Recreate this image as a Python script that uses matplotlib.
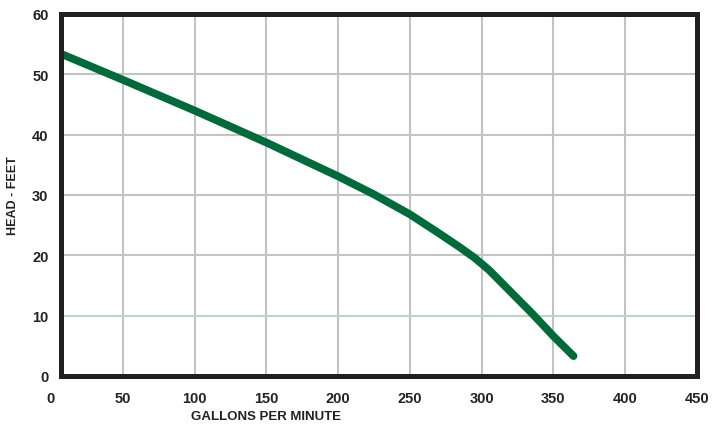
import matplotlib.pyplot as plt

# pump curve
gpm = [8, 50, 100, 150, 200, 225, 250, 270, 285, 295, 305, 320, 335, 350, 364]
head_ft = [53.3, 49.1, 44.0, 38.7, 33.1, 30.1, 26.8, 23.7, 21.3, 19.6, 17.6, 14.0, 10.4, 6.6, 3.3]

x_ticks = [0, 50, 100, 150, 200, 250, 300, 350, 400, 450]
y_ticks = [0, 10, 20, 30, 40, 50, 60]

border = "#231f20"
curve_green = "#006b3a"
grid_gray = "#c3c3c7"
grid_green = "#b6d8c6"
txt = "#222222"

plt.rcParams["font.family"] = ["Liberation Sans", "DejaVu Sans"]

fig = plt.figure(figsize=(7.28, 4.27), dpi=100)
W, H = 728, 427
ax = fig.add_axes([61 / W, 1 - 377 / H, (697 - 61) / W, (377 - 15) / H])

ax.set_xticks(x_ticks)
ax.set_yticks(y_ticks)
# frame starts a little right of 0 gpm (set after ticks, which widen limits)
ax.set_xlim(7, 450)
ax.set_ylim(0, 60)
ax.tick_params(length=0, labelsize=10.5, colors=txt)
ax.tick_params(axis="x", pad=10.5)
ax.tick_params(axis="y", pad=9)
for lab in ax.get_xticklabels() + ax.get_yticklabels():
    lab.set_fontweight("bold")

# the 0 on the x axis sits left of the frame
ax.annotate("0", xy=(0, 0), xycoords=ax.get_xaxis_transform(), xytext=(0, -10.5),
            textcoords="offset points", ha="center", va="top", fontsize=10.5,
            fontweight="bold", color=txt, annotation_clip=False)

# grid
for xv in x_ticks[1:-1]:
    ax.axvline(xv, color=grid_gray, lw=1.5, zorder=1)
for yv in y_ticks[1:-1]:
    ax.axhline(yv, color=grid_green if yv == 10 else grid_gray, lw=1.5, zorder=1)

ax.plot(gpm, head_ft, color=curve_green, lw=5.6, solid_capstyle="round",
        solid_joinstyle="round", zorder=3)

for sp in ax.spines.values():
    sp.set_color(border)
    sp.set_linewidth(3.6)
    sp.set_zorder(4)

ax.set_xlabel("GALLONS PER MINUTE", fontsize=9.5, fontweight="bold", color=txt)
ax.xaxis.set_label_coords((266 - 61) / (697 - 61), -0.095)
ax.set_ylabel("HEAD - FEET", fontsize=9, fontweight="bold", color=txt)
ax.yaxis.set_label_coords(-(61 - 19) / (697 - 61), 0.5)

fig.savefig("out.png", dpi=100)
plt.close(fig)
